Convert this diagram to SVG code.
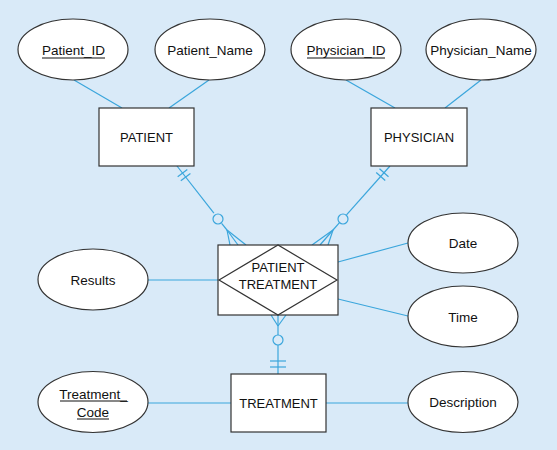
<svg xmlns="http://www.w3.org/2000/svg" width="557" height="450" viewBox="0 0 557 450">
<style>
.bg{fill:#d9eaf8}
.shape{fill:#ffffff;stroke:#333333;stroke-width:1.2}
.conn{stroke:#3ba6dc;stroke-width:1.2;fill:none}
.t{font-family:"Liberation Sans",Arial,sans-serif;font-size:13.5px;fill:#111111;text-anchor:middle}
.te{font-family:"Liberation Sans",Arial,sans-serif;font-size:13px;fill:#111111;text-anchor:middle}
.ul{stroke:#111111;stroke-width:1}
</style>
<rect class="bg" x="0" y="0" width="557" height="450"/>
<g id="connectors">
<line class="conn" x1="74" y1="80" x2="122" y2="108"/>
<line class="conn" x1="209" y1="80" x2="169" y2="108"/>
<line class="conn" x1="346" y1="80" x2="395" y2="108"/>
<line class="conn" x1="481" y1="80" x2="445" y2="108"/>
<line class="conn" x1="148" y1="280" x2="218" y2="280"/>
<line class="conn" x1="338" y1="262" x2="408" y2="243"/>
<line class="conn" x1="338" y1="299" x2="408" y2="316"/>
<line class="conn" x1="148" y1="403" x2="231" y2="403"/>
<line class="conn" x1="326" y1="403" x2="408" y2="403"/>
<!-- PATIENT to PATIENT TREATMENT -->
<line class="conn" x1="177" y1="166" x2="213.9" y2="213.2"/>
<circle class="conn" cx="218" cy="219" r="5"/>
<line class="conn" x1="221.6" y1="223.4" x2="227" y2="230"/>
<line class="conn" x1="227" y1="230" x2="230" y2="245"/>
<line class="conn" x1="227" y1="230" x2="238" y2="245"/>
<line class="conn" x1="227" y1="230" x2="246" y2="245"/>
<line class="conn" x1="177.7" y1="176.8" x2="187.3" y2="169.4"/>
<line class="conn" x1="180.8" y1="180.8" x2="190.4" y2="173.4"/>
<!-- PHYSICIAN to PATIENT TREATMENT -->
<line class="conn" x1="390" y1="166" x2="346.5" y2="214.8"/>
<circle class="conn" cx="343" cy="219" r="5"/>
<line class="conn" x1="339.5" y1="222.6" x2="333" y2="230"/>
<line class="conn" x1="333" y1="230" x2="328" y2="245"/>
<line class="conn" x1="333" y1="230" x2="320" y2="245"/>
<line class="conn" x1="333" y1="230" x2="312" y2="245"/>
<line class="conn" x1="379.5" y1="168.7" x2="388.5" y2="176.7"/>
<line class="conn" x1="376.2" y1="172.5" x2="385.2" y2="180.5"/>
<!-- TREATMENT to PATIENT TREATMENT -->
<line class="conn" x1="278" y1="315" x2="278" y2="335"/>
<line class="conn" x1="271" y1="315" x2="278" y2="326"/>
<line class="conn" x1="286" y1="315" x2="278" y2="326"/>
<circle class="conn" cx="278" cy="340" r="5"/>
<line class="conn" x1="278" y1="345" x2="278" y2="374"/>
<line class="conn" x1="270" y1="361" x2="286" y2="361"/>
<line class="conn" x1="270" y1="367" x2="286" y2="367"/>
</g>
<g id="patient_id">
<ellipse class="shape" cx="73" cy="49.5" rx="55" ry="30.5"/>
<text class="t" x="73.5" y="55">Patient_ID</text>
<line class="ul" x1="42" y1="58" x2="105" y2="58"/>
</g>
<g id="patient_name">
<ellipse class="shape" cx="210" cy="49.5" rx="55" ry="30.5"/>
<text class="t" x="210" y="55">Patient_Name</text>
</g>
<g id="physician_id">
<ellipse class="shape" cx="346" cy="49.5" rx="55" ry="30.5"/>
<text class="t" x="346" y="55">Physician_ID</text>
<line class="ul" x1="307" y1="58" x2="385" y2="58"/>
</g>
<g id="physician_name">
<ellipse class="shape" cx="481" cy="49.5" rx="55" ry="30.5"/>
<text class="t" x="481" y="55">Physician_Name</text>
</g>
<g id="patient">
<rect class="shape" x="99" y="108" width="95" height="58"/>
<text class="te" x="146.5" y="141.5">PATIENT</text>
</g>
<g id="physician">
<rect class="shape" x="371" y="108" width="96" height="58"/>
<text class="te" x="419" y="141.5">PHYSICIAN</text>
</g>
<g id="patient_treatment">
<rect class="shape" x="218" y="245" width="120" height="70"/>
<polygon class="shape" points="219,280 278,245 337,280 278,315"/>
<text class="te" x="278" y="272">PATIENT</text>
<text class="te" x="278" y="289">TREATMENT</text>
</g>
<g id="results">
<ellipse class="shape" cx="93" cy="279.5" rx="55" ry="30.5"/>
<text class="t" x="93" y="284.5">Results</text>
</g>
<g id="date">
<ellipse class="shape" cx="463" cy="243" rx="55" ry="30"/>
<text class="t" x="463" y="248">Date</text>
</g>
<g id="time">
<ellipse class="shape" cx="463" cy="316.5" rx="55" ry="30.5"/>
<text class="t" x="463" y="321.5">Time</text>
</g>
<g id="treatment">
<rect class="shape" x="231" y="374" width="95" height="58"/>
<text class="te" x="278.5" y="408">TREATMENT</text>
</g>
<g id="treatment_code">
<ellipse class="shape" cx="93" cy="402" rx="55" ry="30.5"/>
<text class="t" x="93.5" y="398.5">Treatment_</text>
<line class="ul" x1="60" y1="401" x2="127" y2="401"/>
<text class="t" x="93" y="416.5">Code</text>
<line class="ul" x1="77" y1="419" x2="109" y2="419"/>
</g>
<g id="description">
<ellipse class="shape" cx="463" cy="402" rx="55" ry="30.5"/>
<text class="t" x="463" y="407">Description</text>
</g>
</svg>
